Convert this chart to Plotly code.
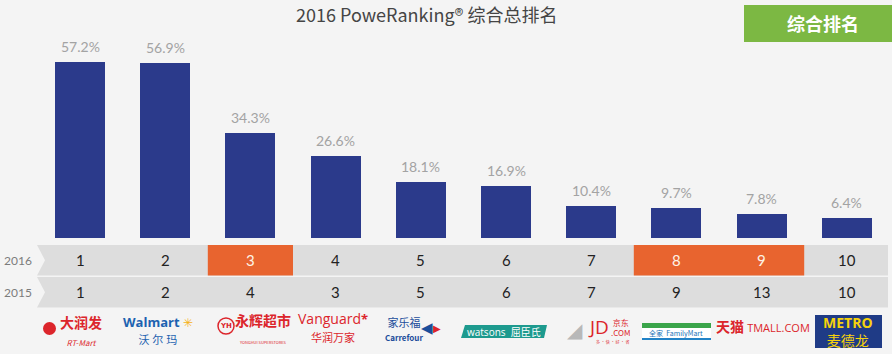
import plotly.graph_objects as go

# ---------------- data ----------------
brands = ["大润发 RT-Mart", "沃尔玛 Walmart", "永辉超市", "华润万家 Vanguard", "家乐福 Carrefour",
          "屈臣氏 Watsons", "京东 JD.COM", "全家 FamilyMart", "天猫 TMALL.COM", "麦德龙 METRO"]
share = [57.2, 56.9, 34.3, 26.6, 18.1, 16.9, 10.4, 9.7, 7.8, 6.4]
rank_2016 = [1, 2, 3, 4, 5, 6, 7, 8, 9, 10]
rank_2015 = [1, 2, 4, 3, 5, 6, 7, 9, 13, 10]
years = ["2016", "2015"]
title_text = "2016 PoweRanking® 综合总排名"
badge_text = "综合排名"

# ---------------- geometry helpers (page pixels) ----------------
W, H = 892, 354
X0, STEP = 80.0, 85.2        # pixel centre of first category, spacing
BASE, PXPCT = 237.7, 3.067   # baseline pixel, pixels per percent


def px(p):
    return p / W


def py(p):
    return 1 - p / H


FONT = "Lato, 'Noto Sans CJK SC', sans-serif"
CJK = "'Noto Sans CJK SC', 'Open Sans', sans-serif"
NAVY = "#2b3a8b"
ORANGE = "#e8642f"
GREY_ROW = "#dddddd"
BG = "#f4f4f4"

cats = list(range(len(brands)))

fig = go.Figure()
fig.add_trace(go.Bar(
    x=cats, y=share, width=50 / STEP, marker=dict(color=NAVY, line=dict(width=0)),
    hovertext=brands, hoverinfo="text+y", showlegend=False,
))

shapes = []
annotations = []

# value labels
for i, v in enumerate(share):
    annotations.append(dict(x=i, y=v, xref="x", yref="y", text=f"{v:.1f}%", showarrow=False,
                            xanchor="center", yanchor="bottom", yshift=5,
                            font=dict(family=FONT, size=14, color="#a3a3a3")))


def cann(x, y, text, size, color, family=FONT, xref="paper"):
    annotations.append(dict(x=x, y=y, xref=xref, yref="paper", text=text, showarrow=False,
                            xanchor="center", yanchor="middle",
                            font=dict(family=family, size=size, color=color)))


# table rows
rows = [(245, 275.5), (277, 307.5)]
for (t, b), yr in zip(rows, years):
    mid = (t + b) / 2
    path = (f"M {px(37)},{py(t)} L {px(888)},{py(t)} L {px(888)},{py(b)} "
            f"L {px(37)},{py(b)} L {px(45)},{py(mid)} Z")
    shapes.append(dict(type="path", xref="paper", yref="paper", path=path,
                       fillcolor=GREY_ROW, line=dict(width=0), layer="below"))
    cann(px(18), py(mid), yr, 12, "#7c7c7c")

# highlighted cells (improved rank) + numbers
for i in cats:
    t, b = rows[0]
    improved = rank_2016[i] < rank_2015[i]
    if improved:
        shapes.append(dict(type="rect", xref="x", yref="paper", x0=i - 0.5, x1=i + 0.5,
                           y0=py(b), y1=py(t), fillcolor=ORANGE, line=dict(width=0), layer="below"))
    cann(i, py((t + b) / 2), str(rank_2016[i]), 15, "#fdf3e6" if improved else "#222222", xref="x")
    t, b = rows[1]
    cann(i, py((t + b) / 2), str(rank_2015[i]), 15, "#222222", xref="x")

# title & badge
cann(px(426), py(14), title_text, 18, "#454545", family=CJK)
shapes.append(dict(type="rect", xref="paper", yref="paper", x0=px(744), x1=px(892),
                   y0=py(42), y1=py(5), fillcolor="#7cb843", line=dict(width=0)))
cann(px(823), py(23), f"<b>{badge_text}</b>", 18, "#ffffff", family=CJK)


# ---------------- logos (approximated with text/shapes) ----------------
def ann(x, y, text, size, color, family=CJK):
    cann(px(x), py(y), text, size, color, family=family)


def rect(x0, y0, x1, y1, color):
    shapes.append(dict(type="rect", xref="paper", yref="paper", x0=px(x0), x1=px(x1),
                       y0=py(y1), y1=py(y0), fillcolor=color, line=dict(width=0)))


def sz(text, size, extra=""):
    return f"<span style='font-size:{size}px;{extra}'>{text}</span>"


RED = "#dc252b"
SANS = "'Open Sans', 'Noto Sans CJK SC', sans-serif"
DEJ = "'DejaVu Sans', sans-serif"
# 1 RT-Mart
shapes.append(dict(type="circle", xref="paper", yref="paper", x0=px(43), x1=px(56),
                   y0=py(335), y1=py(322), fillcolor=RED, line=dict(width=0)))
ann(81, 330, "<b>大润发</b><br>" + sz("<i>RT-Mart</i>", 8), 14, RED)
# 2 Walmart
ann(158, 330, "<b>Walmart</b>" + sz(" ✳", 12, "fill:#f5b21b") + "<br>" + sz("沃 尔 玛", 11),
    13, "#1c62b0", family=SANS)
# 3 YH
shapes.append(dict(type="circle", xref="paper", yref="paper", x0=px(218), x1=px(234),
                   y0=py(334), y1=py(318), fillcolor="rgba(0,0,0,0)", line=dict(color=RED, width=1.5)))
ann(226, 326, "<b>YH</b>", 7, RED, family=DEJ)
ann(263, 327, "<b>永辉超市</b><br>" + sz("YONGHUI SUPERSTORES", 4), 14, RED)
# 4 Vanguard
ann(333, 327, "Vanguard" + sz("<b>*</b>", 13) + "<br>" + sz("华润万家", 11), 14, RED, family=SANS)
# 5 Carrefour
ann(404, 328, "家乐福<br>" + sz("<b>Carrefour</b>", 8), 11, "#1b4d9b", family=CJK)
ann(427, 328, "◀", 15, "#1b4d9b", family=DEJ)
ann(437, 328, "▶", 10, RED, family=DEJ)
# 6 Watsons
shapes.append(dict(type="path", xref="paper", yref="paper",
                   path=(f"M {px(465)},{py(325)} L {px(547)},{py(325)} L {px(544)},{py(338)} "
                         f"L {px(461)},{py(338)} Z"), fillcolor="#1d9a8e", line=dict(width=0)))
ann(504, 331.5, "watsons  屈臣氏", 10, "#ffffff", family=SANS)
# 7 JD
ann(575, 330, "◢", 20, "#b8b8b8", family=DEJ)
ann(598, 327, "JD", 19, RED, family=SANS)
ann(621, 327, "京东<br>" + sz(".COM", 8), 8, RED)
ann(612, 342, "多 · 快 · 好 · 省", 4, RED)
# 8 FamilyMart
rect(642, 323, 711, 328, "#3aa54a")
rect(642, 328, 711, 338, "#ffffff")
rect(642, 338, 711, 340, "#2283c7")
ann(676, 333, "全家  FamilyMart", 7, "#2174b8")
# 9 Tmall
ann(763, 326, "<b>天猫</b> " + sz("TMALL.COM", 11, "font-family:Open Sans"), 14, RED)
# 10 METRO
rect(815, 315, 882, 348, "#1f3b86")
ann(848, 331, "<b>METRO</b><br>" + sz("麦德龙", 14, "font-family:Noto Sans CJK SC"), 14, "#f6d20c", family=SANS)

fig.update_layout(
    width=W, height=H, autosize=False,
    margin=dict(l=0, r=0, t=0, b=0, pad=0),
    paper_bgcolor=BG, plot_bgcolor=BG,
    xaxis=dict(range=[(0 - X0) / STEP, (W - X0) / STEP], visible=False, fixedrange=True),
    yaxis=dict(range=[-(H - BASE) / PXPCT, BASE / PXPCT], visible=False, fixedrange=True),
    shapes=shapes, annotations=annotations, bargap=0, showlegend=False,
)

fig.write_html("out.html")
